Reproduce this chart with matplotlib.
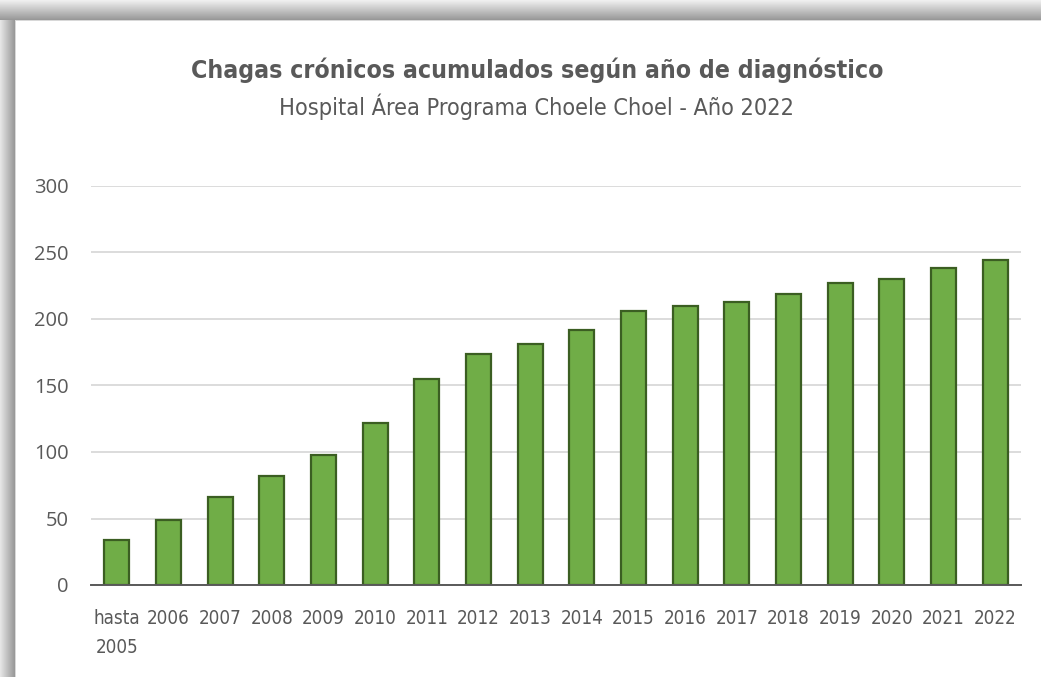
import numpy as np
import matplotlib
matplotlib.use("Agg")
import matplotlib.pyplot as plt

categories = ["hasta\n2005", "2006", "2007", "2008", "2009", "2010", "2011", "2012",
              "2013", "2014", "2015", "2016", "2017", "2018", "2019", "2020", "2021", "2022"]
values = [34, 49, 66, 82, 98, 122, 155, 174, 181, 192, 206, 210, 213, 219, 227, 230, 238, 244]
y_ticks = [0, 50, 100, 150, 200, 250, 300]
title = "Chagas crónicos acumulados según año de diagnóstico"
subtitle = "Hospital Área Programa Choele Choel - Año 2022"

cond = "DejaVu Sans"
cond_stretch = "condensed"
t_size, s_size, x_size = 17.8, 16.8, 13.5
text_gray = "#595959"

W, H = 1041, 677
fig = plt.figure(figsize=(W / 100, H / 100), dpi=100)

# Background frame with shadow-like gray border (top and left)
bg = np.ones((H, W, 3))
top = 20
left = 15
for r in range(top):
    v = 0.94 - 0.34 * (r / (top - 1))
    bg[r, :, :] = v
for c in range(left):
    v = 0.90 - 0.30 * (c / (left - 1))
    bg[top:, c, :] = np.minimum(bg[top:, c, :], v)
bg[top, left:, :] = 0.85
bg[top:, left, :] = 0.85
bax = fig.add_axes([0, 0, 1, 1])
bax.imshow(bg, aspect="auto", extent=[0, W, H, 0])
bax.set_axis_off()

ax = fig.add_axes([91 / W, (H - 585) / H, 930 / W, 399 / H])
x = np.arange(len(categories))
ax.bar(x, values, width=0.48, color="#70AD47", edgecolor="#3B5E22", linewidth=1.6, zorder=3)
ax.set_xlim(-0.5, len(categories) - 0.5)
ax.set_ylim(0, 300)
ax.set_yticks(y_ticks)
ax.yaxis.grid(True, color="#D9D9D9", linewidth=1.3, zorder=0)
ax.set_axisbelow(True)
for s in ["top", "right", "left"]:
    ax.spines[s].set_visible(False)
ax.spines["bottom"].set_color("#595959")
ax.spines["bottom"].set_linewidth(1.4)
ax.spines["bottom"].set_zorder(4)
ax.tick_params(axis="both", length=0)
ax.tick_params(axis="y", pad=16, labelsize=14.5, labelcolor=text_gray)
ax.set_xticks(x)
ax.set_xticklabels(categories, fontsize=x_size, color=text_gray, family=cond,
                   fontstretch=cond_stretch, linespacing=1.7)
ax.tick_params(axis="x", pad=17)
for lab in ax.get_yticklabels():
    lab.set_family("Open Sans")

fig.text(537 / W, 1 - 70 / H, title, ha="center", va="center", fontsize=t_size,
         color=text_gray, family=cond, fontstretch=cond_stretch, fontweight="bold")
fig.text(537 / W, 1 - 107 / H, subtitle, ha="center", va="center", fontsize=s_size,
         color=text_gray, family=cond, fontstretch=cond_stretch)

fig.savefig("out.png", dpi=100)
